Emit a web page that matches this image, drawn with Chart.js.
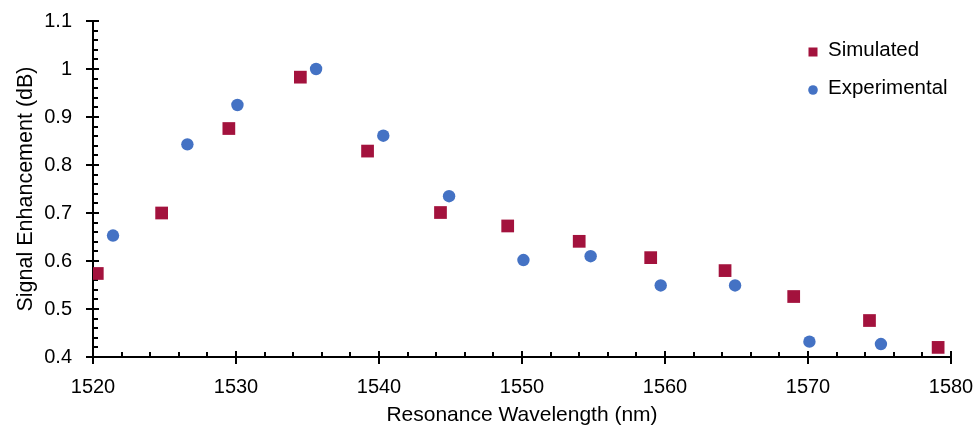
<!DOCTYPE html>
<html>
<head>
<meta charset="utf-8">
<script src="https://cdn.jsdelivr.net/npm/chart.js@4/dist/chart.umd.min.js"></script>
<style>
  html, body { margin: 0; padding: 0; background: #fff; }
  #wrap { width: 977px; height: 430px; }
</style>
</head>
<body>
<div id="wrap"><canvas id="chart" width="977" height="430"></canvas></div>
<script>
// simulated (red squares)
const simWavelength = [1520.3, 1524.8, 1529.5, 1534.5, 1539.2, 1544.3, 1549.0, 1554.0, 1559.0, 1564.2, 1569.0, 1574.3, 1579.1];
const simEnhancement = [0.574, 0.700, 0.876, 0.983, 0.829, 0.701, 0.673, 0.641, 0.607, 0.580, 0.526, 0.476, 0.420];

// experimental (blue circles)
const expWavelength = [1521.4, 1526.6, 1530.1, 1535.6, 1540.3, 1544.9, 1550.1, 1554.8, 1559.7, 1564.9, 1570.1, 1575.1];
const expEnhancement = [0.653, 0.843, 0.925, 1.000, 0.861, 0.735, 0.602, 0.610, 0.549, 0.549, 0.432, 0.427];

const xTicks = [1520, 1530, 1540, 1550, 1560, 1570, 1580];
const yTicks = [0.4, 0.5, 0.6, 0.7, 0.8, 0.9, 1, 1.1];

const RED = "#A3123D";
const BLUE = "#4472C4";
const FONT = "'Liberation Sans', Arial, sans-serif";

function toPoints(xs, ys) {
    return xs.map((x, i) => ({ x: x, y: ys[i] }));
}

// tick marks: major ones cross the axis, minor ones sit inside
const axisTicks = {
    id: "axisTicks",
    beforeDatasetsDraw(chart) {
        const { ctx, chartArea, scales } = chart;
        const xs = scales.x, ys = scales.y;
        ctx.save();
        ctx.strokeStyle = "#000";
        ctx.lineWidth = 2;
        ctx.beginPath();
        for (let v = 1520; v <= 1580; v += 2) {
            const px = Math.round(xs.getPixelForValue(v));
            const major = v % 10 === 0;
            ctx.moveTo(px, chartArea.bottom - (major ? 6 : 5));
            ctx.lineTo(px, chartArea.bottom + (major ? 7 : 0));
        }
        for (let k = 0; k <= 35; k++) {
            const v = 0.4 + k * 0.02;
            const py = Math.round(ys.getPixelForValue(v));
            const major = k % 5 === 0;
            ctx.moveTo(chartArea.left - (major ? 7 : 0), py);
            ctx.lineTo(chartArea.left + (major ? 6 : 5), py);
        }
        ctx.stroke();
        ctx.restore();
    }
};

// legend inside the plot, top right
const insideLegend = {
    id: "insideLegend",
    afterDraw(chart) {
        const { ctx } = chart;
        const items = [
            { label: chart.data.datasets[0].label, color: RED, style: "rect", y: 52 },
            { label: chart.data.datasets[1].label, color: BLUE, style: "circle", y: 90 }
        ];
        ctx.save();
        ctx.font = "20.5px " + FONT;
        ctx.textBaseline = "middle";
        items.forEach(it => {
            ctx.fillStyle = it.color;
            if (it.style === "rect") {
                ctx.fillRect(808.5, it.y - 4.5, 9, 9);
            } else {
                ctx.beginPath();
                ctx.arc(813, it.y, 4.8, 0, Math.PI * 2);
                ctx.fill();
            }
            ctx.fillStyle = "#000";
            ctx.fillText(it.label, 828, it.y - 2);
        });
        ctx.restore();
    }
};

new Chart(document.getElementById("chart").getContext("2d"), {
    type: "scatter",
    data: {
        datasets: [
            {
                label: "Simulated",
                data: toPoints(simWavelength, simEnhancement),
                pointStyle: "rect",
                pointRadius: 9,
                pointHoverRadius: 9,
                backgroundColor: RED,
                borderColor: RED,
                borderWidth: 0
            },
            {
                label: "Experimental",
                data: toPoints(expWavelength, expEnhancement),
                pointStyle: "circle",
                pointRadius: 6.2,
                pointHoverRadius: 6.2,
                backgroundColor: BLUE,
                borderColor: BLUE,
                borderWidth: 0
            }
        ]
    },
    options: {
        responsive: false,
        animation: false,
        layout: { padding: { top: 21, right: 26, left: 0, bottom: 0 } },
        plugins: {
            legend: { display: false },
            tooltip: { enabled: false }
        },
        scales: {
            x: {
                type: "linear",
                min: 1520,
                max: 1580,
                afterBuildTicks: s => { s.ticks = xTicks.map(v => ({ value: v })); },
                afterFit: s => { s.height = 73; s.paddingLeft = 0; s.paddingRight = 0; },
                grid: { display: false, drawTicks: false },
                border: { display: true, color: "#000", width: 2 },
                ticks: {
                    color: "#000",
                    padding: 18,
                    maxRotation: 0,
                    font: { family: FONT, size: 20 },
                    callback: v => String(v)
                },
                title: {
                    display: true,
                    text: "Resonance Wavelength (nm)",
                    color: "#000",
                    font: { family: FONT, size: 21 },
                    padding: { top: 0, bottom: 2 }
                }
            },
            y: {
                type: "linear",
                min: 0.4,
                max: 1.1,
                afterBuildTicks: s => { s.ticks = yTicks.map(v => ({ value: v })); },
                afterFit: s => { s.width = 93; s.paddingTop = 0; s.paddingBottom = 0; },
                grid: { display: false, drawTicks: false },
                border: { display: true, color: "#000", width: 2 },
                ticks: {
                    color: "#000",
                    padding: 21,
                    font: { family: FONT, size: 20 },
                    callback: v => String(Math.round(v * 10) / 10)
                },
                title: {
                    display: true,
                    text: "Signal Enhancement (dB)",
                    color: "#000",
                    font: { family: FONT, size: 21.5 },
                    padding: { top: 13, bottom: 0 }
                }
            }
        }
    },
    plugins: [axisTicks, insideLegend]
});
</script>
</body>
</html>
